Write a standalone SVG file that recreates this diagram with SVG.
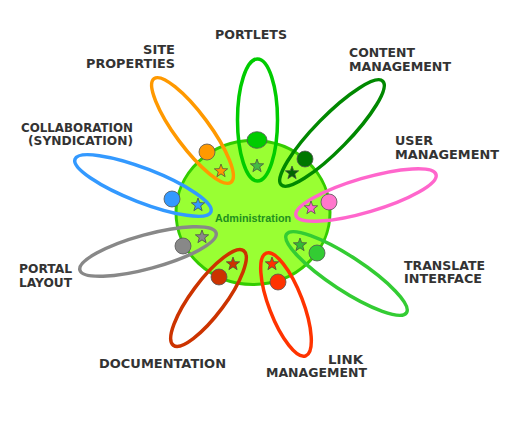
<svg xmlns="http://www.w3.org/2000/svg" xmlns:xlink="http://www.w3.org/1999/xlink" width="518" height="430" viewBox="0 0 518 430">
<style>
.lbl{font-family:"DejaVu Sans","Liberation Sans",sans-serif;font-weight:bold;font-size:13px;fill:#333333}
.petal{fill:none;stroke-width:3.5}
.dot{stroke:#555555;stroke-width:0.8}
.star{stroke:#444444;stroke-width:0.7}
.center{fill:#99ff33;stroke:#33cc00;stroke-width:3}
.ctext{font-family:"Liberation Sans",Arial,sans-serif;font-weight:bold;font-size:10.8px;fill:#1f8f1f}
</style>
<defs>
<path id="star" d="M0,-7 L1.7,-2.35 L6.66,-2.16 L2.76,0.9 L4.11,5.66 L0,2.9 L-4.11,5.66 L-2.76,0.9 L-6.66,-2.16 L-1.7,-2.35 Z"/>
</defs>
<rect width="518" height="430" fill="#ffffff"/>
<g id="administration">
<ellipse class="center" cx="253" cy="212.5" rx="77" ry="72"/>
<text class="ctext" x="253" y="222" text-anchor="middle">Administration</text>
</g>
<g id="connectors">
<ellipse class="petal" stroke="#ff9900" rx="64.5" ry="17" transform="translate(192.5,130.5) rotate(53.4)"/>
<ellipse class="petal" stroke="#00cc00" cx="257.5" cy="120" rx="20" ry="61"/>
<ellipse class="petal" stroke="#008800" stroke-width="4" rx="72.6" ry="17" transform="translate(332,133) rotate(-45.6)"/>
<ellipse class="petal" stroke="#ff66cc" rx="73" ry="17" transform="translate(366,195) rotate(-16.4)"/>
<ellipse class="petal" stroke="#33cc33" rx="71.7" ry="17" transform="translate(346.5,273.5) rotate(33.2)"/>
<ellipse class="petal" stroke="#ff3300" rx="55" ry="17" transform="translate(286,304.5) rotate(69)"/>
<ellipse class="petal" stroke="#cc3300" rx="58.9" ry="17" transform="translate(208.5,298) rotate(-53.3)"/>
<ellipse class="petal" stroke="#888888" rx="70.6" ry="17" transform="translate(148,251.5) rotate(-15.3)"/>
<ellipse class="petal" stroke="#3399ff" rx="72.9" ry="17" transform="translate(143,185.5) rotate(21.2)"/>
</g>
<g id="site-properties">
<circle class="dot" fill="#ff9900" cx="207" cy="152" r="8"/>
<use href="#star" class="star" fill="#ff9900" x="221" y="171"/>
<text class="lbl" x="143" y="54" textLength="32" lengthAdjust="spacingAndGlyphs">SITE</text>
<text class="lbl" x="86" y="68" textLength="89" lengthAdjust="spacingAndGlyphs">PROPERTIES</text>
</g>
<g id="portlets">
<ellipse class="dot" fill="#00cc00" cx="257" cy="140" rx="10" ry="8.3"/>
<use href="#star" class="star" fill="#44bb44" x="257" y="166"/>
<text class="lbl" x="215" y="39" textLength="72" lengthAdjust="spacingAndGlyphs">PORTLETS</text>
</g>
<g id="content-management">
<circle class="dot" fill="#007700" cx="305" cy="159" r="8"/>
<use href="#star" class="star" fill="#006600" x="292" y="173"/>
<text class="lbl" x="349" y="57" textLength="66" lengthAdjust="spacingAndGlyphs">CONTENT</text>
<text class="lbl" x="349" y="71" textLength="102" lengthAdjust="spacingAndGlyphs">MANAGEMENT</text>
</g>
<g id="user-management">
<circle class="dot" fill="#ff77cc" cx="329" cy="202" r="8"/>
<use href="#star" class="star" fill="#ff66cc" x="311" y="208"/>
<text class="lbl" x="395" y="145" textLength="38" lengthAdjust="spacingAndGlyphs">USER</text>
<text class="lbl" x="395" y="159" textLength="104" lengthAdjust="spacingAndGlyphs">MANAGEMENT</text>
</g>
<g id="translate-interface">
<circle class="dot" fill="#33cc33" cx="317" cy="253" r="8"/>
<use href="#star" class="star" fill="#33bb33" x="300" y="245"/>
<text class="lbl" x="404" y="270" textLength="81" lengthAdjust="spacingAndGlyphs">TRANSLATE</text>
<text class="lbl" x="404" y="283" textLength="78" lengthAdjust="spacingAndGlyphs">INTERFACE</text>
</g>
<g id="link-management">
<circle class="dot" fill="#ff3300" cx="278" cy="282" r="8"/>
<use href="#star" class="star" fill="#ff3300" x="272" y="264"/>
<text class="lbl" x="328" y="364" textLength="35" lengthAdjust="spacingAndGlyphs">LINK</text>
<text class="lbl" x="266" y="377" textLength="101" lengthAdjust="spacingAndGlyphs">MANAGEMENT</text>
</g>
<g id="documentation">
<circle class="dot" fill="#cc3300" cx="219" cy="277" r="8"/>
<use href="#star" class="star" fill="#cc3300" x="233" y="264"/>
<text class="lbl" x="99" y="368" textLength="127" lengthAdjust="spacingAndGlyphs">DOCUMENTATION</text>
</g>
<g id="portal-layout">
<circle class="dot" fill="#888888" cx="183" cy="246" r="8"/>
<use href="#star" class="star" fill="#888888" x="202" y="237"/>
<text class="lbl" x="19" y="273" textLength="53" lengthAdjust="spacingAndGlyphs">PORTAL</text>
<text class="lbl" x="19" y="287" textLength="53" lengthAdjust="spacingAndGlyphs">LAYOUT</text>
</g>
<g id="collaboration">
<circle class="dot" fill="#3399ff" cx="172" cy="199" r="8"/>
<use href="#star" class="star" fill="#3399ff" x="198" y="205"/>
<text class="lbl" x="21" y="132" textLength="112" lengthAdjust="spacingAndGlyphs">COLLABORATION</text>
<text class="lbl" x="28" y="145" textLength="105" lengthAdjust="spacingAndGlyphs">(SYNDICATION)</text>
</g>
</svg>
